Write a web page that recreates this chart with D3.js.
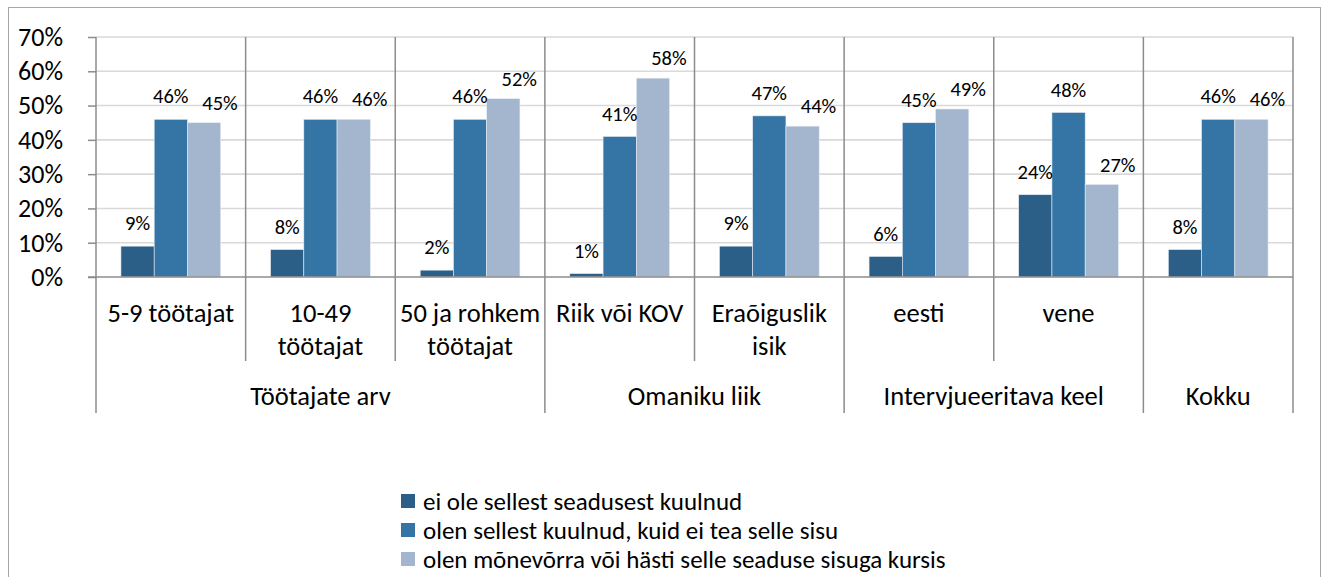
<!DOCTYPE html>
<html>
<head>
<meta charset="utf-8">
<script src="https://cdn.jsdelivr.net/npm/d3@7"></script>
<style>
  html, body { margin: 0; padding: 0; background: #fff; overflow: hidden; }
  text { font-family: Carlito, Calibri, Lato, sans-serif; fill: #000; }
</style>
</head>
<body>
<div id="canvas"></div>
<script>
// chart data
const categoryLines = [
  ["5-9 töötajat"],
  ["10-49", "töötajat"],
  ["50 ja rohkem", "töötajat"],
  ["Riik või KOV"],
  ["Eraõiguslik", "isik"],
  ["eesti"],
  ["vene"],
  []
];
const groupNames = ["Töötajate arv", "Omaniku liik", "Intervjueeritava keel", "Kokku"];
const groupSizes = [3, 2, 2, 1];

const seriesNames = [
  "ei ole sellest seadusest kuulnud",
  "olen sellest kuulnud, kuid ei tea selle sisu",
  "olen mõnevõrra või hästi selle seaduse sisuga kursis"
];
const notHeard = [9, 8, 2, 1, 9, 6, 24, 8];
const heardNoContent = [46, 46, 46, 41, 47, 45, 48, 46];
const familiar = [45, 46, 52, 58, 44, 49, 27, 46];
const yTicks = [0, 10, 20, 30, 40, 50, 60, 70];

const colors = ["#2b5f87", "#3575a5", "#a4b6cd"];

let W = 1322, H = 577;
let plot = { left: 96, right: 1293, top: 37, bottom: 277 };
let catFont = 26.5, tickFont = 26, legendFont = 25, labelFont = 20.5;

let svg = d3.select("#canvas")
  .append("svg")
  .attr("width", W)
  .attr("height", H);

// outer frame
svg.append("rect")
  .attr("x", 8.5).attr("y", 7.5)
  .attr("width", 1312).attr("height", 640)
  .attr("fill", "#fff")
  .attr("stroke", "#a6a6a6")
  .attr("stroke-width", 1);

let catIdx = d3.range(categoryLines.length);

let xScale = d3.scaleBand()
  .domain(catIdx)
  .range([plot.left, plot.right]);

let xInner = d3.scaleBand()
  .domain([0, 1, 2])
  .range([0, xScale.bandwidth()])
  .paddingInner(0)
  .paddingOuter(0.75);

let yScale = d3.scaleLinear()
  .domain([0, 70])
  .range([plot.bottom, plot.top]);

// horizontal gridlines + y ticks
svg.append("g")
  .selectAll("line")
  .data(yTicks.filter(d => d > 0))
  .enter()
  .append("line")
  .attr("x1", plot.left).attr("x2", plot.right)
  .attr("y1", d => yScale(d)).attr("y2", d => yScale(d))
  .attr("stroke", "#d9d9d9")
  .attr("stroke-width", 1.6);

let yAxis = svg.append("g")
  .attr("transform", "translate(" + plot.left + ",0)")
  .call(d3.axisLeft(yScale).tickValues(yTicks).tickSize(8).tickPadding(25).tickFormat(d => d + "%"));
yAxis.select(".domain").remove();
yAxis.selectAll(".tick line").attr("stroke", "#8c8c8c").attr("stroke-width", 1.5);
yAxis.selectAll(".tick text")
  .style("font-size", tickFont + "px")
  .style("font-family", "Carlito, Calibri, Lato, sans-serif")
  .attr("fill", "#000");

// category boundaries: inner ones stop under the category labels,
// group boundaries run down past the group labels
let groupStarts = [0];
groupSizes.forEach((s, i) => groupStarts.push(groupStarts[i] + s));
let boundaries = d3.range(categoryLines.length + 1);

svg.append("g")
  .selectAll("line")
  .data(boundaries)
  .enter()
  .append("line")
  .attr("x1", d => plot.left + d * xScale.step())
  .attr("x2", d => plot.left + d * xScale.step())
  .attr("y1", plot.top)
  .attr("y2", d => groupStarts.includes(d) ? 413 : 361)
  .attr("stroke", "#8c8c8c")
  .attr("stroke-width", 1.5);

// bars
let series = [notHeard, heardNoContent, familiar];
let barData = [];
series.forEach((vals, s) => vals.forEach((v, i) => barData.push({ s: s, i: i, v: v })));

svg.append("g")
  .selectAll("rect")
  .data(barData)
  .enter()
  .append("rect")
  .attr("x", d => xScale(d.i) + xInner(d.s))
  .attr("y", d => yScale(d.v))
  .attr("width", xInner.bandwidth())
  .attr("height", d => yScale(0) - yScale(d.v))
  .attr("fill", d => colors[d.s])
  .attr("stroke", "#e6ecf3")
  .attr("stroke-width", 0.6);

// x axis line
svg.append("line")
  .attr("x1", plot.left - 8).attr("x2", plot.right)
  .attr("y1", plot.bottom).attr("y2", plot.bottom)
  .attr("stroke", "#8c8c8c")
  .attr("stroke-width", 1.5);

// data labels (third series sits a little to the right, like in the original)
svg.append("g")
  .selectAll("text")
  .data(barData)
  .enter()
  .append("text")
  .attr("x", d => xScale(d.i) + xInner(d.s) + xInner.bandwidth() / 2 + (d.s == 2 ? 16 : 0))
  .attr("y", d => yScale(d.v) - (d.s == 2 ? 20 : 23))
  .attr("dy", "0.35em")
  .attr("text-anchor", "middle")
  .style("font-size", labelFont + "px")
  .text(d => d.v + "%");

// category labels
let catLabels = svg.append("g")
  .selectAll("text")
  .data(catIdx)
  .enter()
  .append("text")
  .attr("x", d => xScale(d) + xScale.bandwidth() / 2)
  .attr("y", 313)
  .attr("text-anchor", "middle")
  .style("font-size", catFont + "px");

catLabels.selectAll("tspan")
  .data(d => categoryLines[d])
  .enter()
  .append("tspan")
  .attr("x", function () { return d3.select(this.parentNode).attr("x"); })
  .attr("dy", (d, k) => k == 0 ? "0.35em" : "33px")
  .text(d => d);

// group labels
svg.append("g")
  .selectAll("text")
  .data(groupNames)
  .enter()
  .append("text")
  .attr("x", (d, g) => plot.left + (groupStarts[g] + groupSizes[g] / 2) * xScale.step())
  .attr("y", 396)
  .attr("dy", "0.35em")
  .attr("text-anchor", "middle")
  .style("font-size", catFont + "px")
  .text(d => d);

// legend
let legend = svg.selectAll(".legend")
  .data(seriesNames)
  .enter()
  .append("g")
  .attr("class", "legend")
  .attr("transform", (d, i) => "translate(401," + (501 + i * 29) + ")");

legend.append("rect")
  .attr("x", 0)
  .attr("y", -7)
  .attr("width", 14)
  .attr("height", 14)
  .style("fill", (d, i) => colors[i]);

legend.append("text")
  .attr("x", 22)
  .attr("y", 0)
  .attr("dy", "0.35em")
  .style("font-size", legendFont + "px")
  .text(d => d);
</script>
</body>
</html>
